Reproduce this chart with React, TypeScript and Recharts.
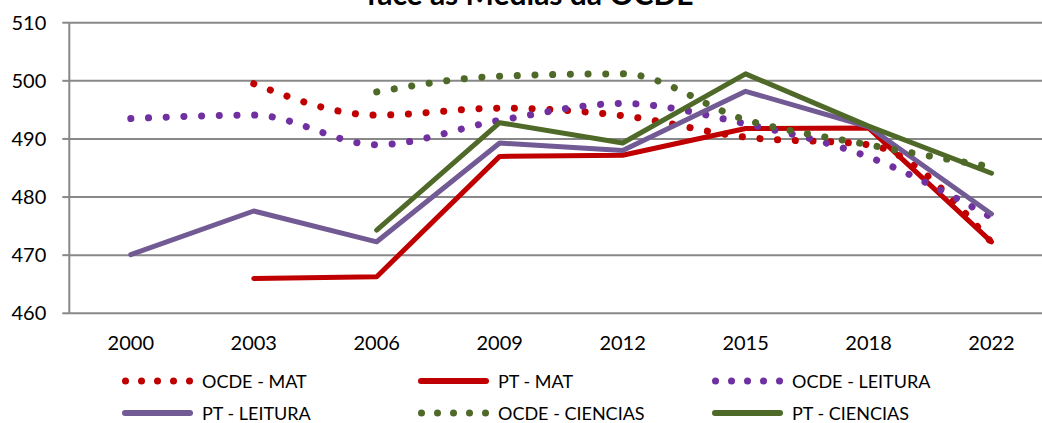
import React from 'react';
import { LineChart, Line, XAxis, YAxis, CartesianGrid, Legend } from 'recharts';

const years = ['2000', '2003', '2006', '2009', '2012', '2015', '2018', '2022'];
const ocdeMat = [null, 499.5, 494.1, 495.3, 494.0, 490.3, 489.0, 472.2];
const ptMat = [null, 466.0, 466.3, 487.0, 487.2, 491.8, 491.9, 472.3];
const ocdeLeitura = [493.5, 494.1, 489.0, 493.2, 496.1, 492.6, 486.9, 476.5];
const ptLeitura = [470.1, 477.6, 472.3, 489.3, 488.0, 498.2, 492.1, 477.1];
const ocdeCiencias = [null, null, 498.1, 500.8, 501.2, 493.3, 489.0, 485.2];
const ptCiencias = [null, null, 474.3, 492.8, 489.3, 501.2, 492.2, 484.1];
const yTicks = [460, 470, 480, 490, 500, 510];
const edgeTicks = [0, 1, 2, 3, 4, 5, 6, 7, 8];

const RED = '#C00000';
const PURPLE_DOT = '#7030A0';
const PURPLE = '#725A94';
const GREEN = '#4F6A28';
const GRID = '#888888';

const series = [
  { key: 'ocdeMat', name: 'OCDE - MAT', color: RED, dotted: true, values: ocdeMat },
  { key: 'ptMat', name: 'PT - MAT', color: RED, dotted: false, values: ptMat },
  { key: 'ocdeLeitura', name: 'OCDE - LEITURA', color: PURPLE_DOT, dotted: true, values: ocdeLeitura },
  { key: 'ptLeitura', name: 'PT - LEITURA', color: PURPLE, dotted: false, values: ptLeitura },
  { key: 'ocdeCiencias', name: 'OCDE - CIENCIAS', color: GREEN, dotted: true, values: ocdeCiencias },
  { key: 'ptCiencias', name: 'PT - CIENCIAS', color: GREEN, dotted: false, values: ptCiencias },
];

const data = years.map((year, i) => {
  const row: Record<string, any> = { year };
  series.forEach((s) => {
    row[s.key] = s.values[i];
  });
  return row;
});

const legendCols = [122, 418, 712];
const legendRows = [18, 50];

const CustomLegend = () => (
  <div style={{ position: 'relative', width: 1042, height: 60 }}>
    {series.map((s, i) => {
      const col = legendCols[i % 3];
      const row = legendRows[Math.floor(i / 3)];
      return (
        <div
          key={s.key}
          style={{
            position: 'absolute',
            left: col,
            top: row - 9,
            height: 18,
            display: 'flex',
            alignItems: 'center',
            whiteSpace: 'nowrap',
          }}
        >
          <svg width={72} height={10} style={{ display: 'block' }}>
            {s.dotted ? (
              [0, 1, 2, 3, 4].map((d) => (
                <circle key={d} cx={3.5 + d * 16} cy={5} r={3.5} fill={s.color} />
              ))
            ) : (
              <line x1={3} y1={5} x2={68} y2={5} stroke={s.color} strokeWidth={6} strokeLinecap="round" />
            )}
          </svg>
          <span style={{ marginLeft: 8, fontSize: 18, color: '#000', lineHeight: '18px' }}>{s.name}</span>
        </div>
      );
    })}
  </div>
);

export default function App() {
  return (
    <div
      style={{
        position: 'absolute',
        left: 0,
        top: 0,
        width: 1042,
        height: 423,
        overflow: 'hidden',
        background: '#fff',
        fontFamily: 'Lato, "Open Sans", sans-serif',
      }}
    >
      <LineChart
        width={1053}
        height={423}
        data={data}
        margin={{ top: 22.7, right: 0, bottom: 0, left: 0 }}
      >
        <CartesianGrid vertical={false} stroke={GRID} strokeWidth={2} xAxisId="edges" />
        <XAxis
          xAxisId="edges"
          type="number"
          domain={[0, 8]}
          ticks={edgeTicks}
          tick={false}
          tickSize={7}
          tickLine={{ stroke: GRID, strokeWidth: 2 }}
          axisLine={{ stroke: GRID, strokeWidth: 2 }}
          height={0}
          allowDataOverflow
        />
        <XAxis
          xAxisId="cats"
          dataKey="year"
          scale="band"
          tickLine={false}
          axisLine={false}
          tickSize={7}
          tickMargin={15}
          height={49.7}
          interval={0}
          tick={{ fill: '#000', fontSize: 20 }}
        />
        <YAxis
          domain={[460, 510]}
          ticks={yTicks}
          interval={0}
          width={69.3}
          tickSize={7}
          tickMargin={16}
          tickLine={{ stroke: GRID, strokeWidth: 2 }}
          axisLine={{ stroke: GRID, strokeWidth: 2 }}
          tick={{ fill: '#000', fontSize: 20 }}
          allowDataOverflow
        />
        <Legend verticalAlign="bottom" height={60} content={() => <CustomLegend />} wrapperStyle={{ left: 0, bottom: 0 }} />
        {series.map((s) => (
          <Line
            key={s.key}
            xAxisId="cats"
            dataKey={s.key}
            name={s.name}
            type={s.dotted ? 'monotone' : 'linear'}
            stroke={s.color}
            strokeWidth={s.dotted ? 7 : 5}
            strokeDasharray={s.dotted ? '0.1 17.6' : undefined}
            strokeLinecap="round"
            strokeLinejoin="round"
            dot={false}
            activeDot={false}
            isAnimationActive={false}
          />
        ))}
        <text x={530} y={5} textAnchor="middle" fontSize={30} fontWeight="bold" fill="#000">
          face às Médias da OCDE
        </text>
      </LineChart>
    </div>
  );
}
